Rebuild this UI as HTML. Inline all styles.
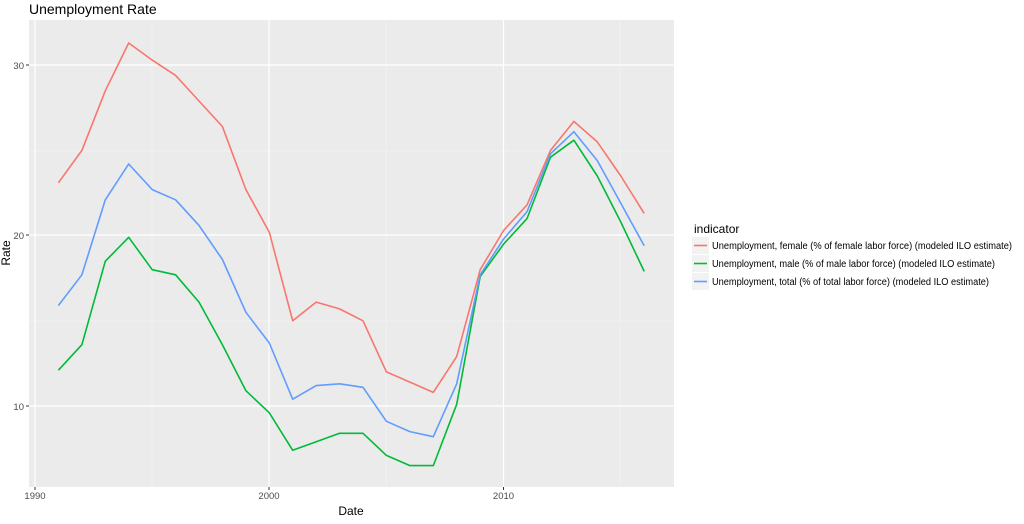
<!DOCTYPE html>
<html><head><meta charset="utf-8"><style>
body{margin:0;background:#fff;}
svg text{font-family:"Liberation Sans",Arial,sans-serif;}
</style></head><body>
<svg width="1024" height="519" xmlns="http://www.w3.org/2000/svg">
<rect width="1024" height="519" fill="#fff"/>
<text x="29" y="14" font-size="14" fill="#000">Unemployment Rate</text>
<rect x="29" y="20" width="645" height="467" fill="#EBEBEB"/>
<g stroke="#F6F6F6" stroke-width="0.6">
<line x1="29" x2="674" y1="151" y2="151"/><line x1="29" x2="674" y1="321" y2="321"/>
<line y1="20" y2="487" x1="152" x2="152"/><line y1="20" y2="487" x1="386" x2="386"/><line y1="20" y2="487" x1="620" x2="620"/>
</g>
<g stroke="#fff" stroke-width="1.2">
<line x1="29" x2="674" y1="65" y2="65"/><line x1="29" x2="674" y1="235" y2="235"/><line x1="29" x2="674" y1="406" y2="406"/>
<line y1="20" y2="487" x1="35" x2="35"/><line y1="20" y2="487" x1="269" x2="269"/><line y1="20" y2="487" x1="503.5" x2="503.5"/>
</g>
<g stroke="#333" stroke-width="1">
<line x1="26" x2="29" y1="65" y2="65"/><line x1="26" x2="29" y1="235" y2="235"/><line x1="26" x2="29" y1="406" y2="406"/>
<line y1="487" y2="490" x1="35" x2="35"/><line y1="487" y2="490" x1="269" x2="269"/><line y1="487" y2="490" x1="503.5" x2="503.5"/>
</g>
<g font-size="9.5" fill="#4D4D4D" text-anchor="end">
<text x="24" y="69">30</text><text x="24" y="239">20</text><text x="24" y="410">10</text>
</g>
<g font-size="9.5" fill="#4D4D4D" text-anchor="middle">
<text x="35" y="499">1990</text><text x="269" y="499">2000</text><text x="503.5" y="499">2010</text>
</g>
<text x="351" y="515" font-size="12" text-anchor="middle">Date</text>
<text transform="translate(10,253) rotate(-90)" font-size="12" text-anchor="middle">Rate</text>
<g fill="none" stroke-width="1.6" stroke-linejoin="round">
<polyline id="f" stroke="#F8766D" points=""/>
<polyline id="m" stroke="#00BA38" points=""/>
<polyline id="t" stroke="#619CFF" points=""/>
</g>
<text x="694" y="233" font-size="12">indicator</text>
<rect x="692" y="237" width="17" height="17" fill="#F2F2F2"/>
<rect x="692" y="255" width="17" height="17" fill="#F2F2F2"/>
<rect x="692" y="273" width="17" height="17" fill="#F2F2F2"/>
<line x1="694" x2="707" y1="245.5" y2="245.5" stroke="#F8766D" stroke-width="1.6"/>
<line x1="694" x2="707" y1="263.5" y2="263.5" stroke="#00BA38" stroke-width="1.6"/>
<line x1="694" x2="707" y1="281.5" y2="281.5" stroke="#619CFF" stroke-width="1.6"/>
<g font-size="9.7" fill="#000">
<text x="712" y="249" textLength="300" lengthAdjust="spacingAndGlyphs">Unemployment, female (% of female labor force) (modeled ILO estimate)</text>
<text x="712" y="267" textLength="283" lengthAdjust="spacingAndGlyphs">Unemployment, male (% of male labor force) (modeled ILO estimate)</text>
<text x="712" y="285" textLength="277" lengthAdjust="spacingAndGlyphs">Unemployment, total (% of total labor force) (modeled ILO estimate)</text>
</g>
<script>
var F=[23.1,25,28.5,31.3,30.3,29.4,27.9,26.4,22.7,20.2,15.0,16.1,15.7,15.0,12.0,11.4,10.8,12.9,18.0,20.3,21.8,25.0,26.7,25.5,23.5,21.3];
var M=[12.1,13.6,18.5,19.9,18.0,17.7,16.1,13.6,10.9,9.6,7.4,7.9,8.4,8.4,7.1,6.5,6.5,10.1,17.6,19.5,21.0,24.6,25.6,23.5,20.8,17.9];
var T=[15.9,17.7,22.1,24.2,22.7,22.1,20.6,18.6,15.5,13.7,10.4,11.2,11.3,11.1,9.1,8.5,8.2,11.3,17.7,19.8,21.4,24.8,26.1,24.4,21.9,19.4];
function p(a){return a.map(function(v,i){return (35+23.43*(i+1)).toFixed(1)+","+(576.4-17.04*v).toFixed(1)}).join(" ")}
document.getElementById("f").setAttribute("points",p(F));
document.getElementById("m").setAttribute("points",p(M));
document.getElementById("t").setAttribute("points",p(T));
</script>
</svg>
</body></html>
